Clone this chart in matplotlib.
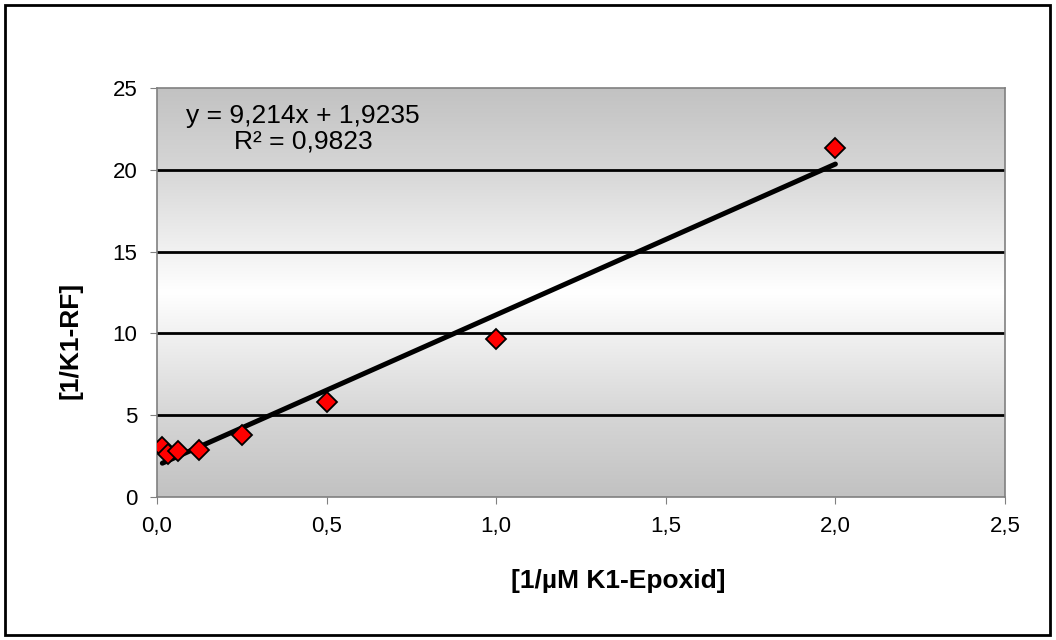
import numpy as np
import matplotlib.pyplot as plt
from matplotlib.patches import Rectangle
from matplotlib.ticker import FuncFormatter

plt.rcParams['font.family'] = ['Liberation Sans', 'DejaVu Sans']

# Data
x_vals = [1/64, 1/32, 1/16, 1/8, 0.25, 0.5, 1.0, 2.0]
y_vals = [3.07, 2.63, 2.81, 2.87, 3.79, 5.79, 9.66, 21.35]
slope = 9.214
intercept = 1.9235
r_squared = 0.9823

fig = plt.figure(figsize=(10.56, 6.4), dpi=100)
ax = fig.add_axes([0.1487, 0.2234, 0.9517 - 0.1487, 0.8625 - 0.2234])

# gray-white-gray gradient background of the plot area
pos = np.linspace(0, 1, 300)
shade = np.interp(pos, [0, 0.2, 0.5, 0.8, 1.0], [0.76, 0.84, 1.0, 0.84, 0.76])
grad = np.dstack([shade, shade, shade])[0][:, None, :]
ax.imshow(grad, extent=[0, 2.5, 0, 25], aspect='auto', origin='lower', zorder=0)

ax.set_xlim(0, 2.5)
ax.set_ylim(0, 25)
ax.set_xticks(np.arange(0, 2.51, 0.5))
ax.set_yticks(np.arange(0, 26, 5))
ax.xaxis.set_major_formatter(FuncFormatter(lambda v, p: f'{v:.1f}'.replace('.', ',')))

for yv in [5, 10, 15, 20]:
    ax.axhline(yv, color='black', linewidth=2, zorder=1)

for s in ax.spines.values():
    s.set_color('#808080')
    s.set_linewidth(1.2)
ax.tick_params(direction='out', length=5, color='#808080', labelsize=16, pad=9)

# trendline
xt = np.array([min(x_vals), max(x_vals)])
ax.plot(xt, slope * xt + intercept, color='black', linewidth=3.6,
        solid_capstyle='round', zorder=2)

ax.plot(x_vals, y_vals, linestyle='none', marker='D', markersize=10,
        markerfacecolor='#ff0000', markeredgecolor='black', markeredgewidth=1.3, zorder=3)

eq = (f'y = {slope:.3f}x + {intercept:.4f}'.replace('.', ',') + '\n'
      + f'R² = {r_squared:.4f}'.replace('.', ','))
ax.text(0.43, 22.5, eq, ha='center', va='center', fontsize=19, linespacing=1.05, zorder=4)

# axis titles
fig.text(618 / 1056, 1 - 581 / 640, '[1/µM K1-Epoxid]', fontsize=19, fontweight='bold',
         ha='center', va='center')
fig.text(70 / 1056, 1 - 340 / 640, '[1/K1-RF]', fontsize=19, fontweight='bold',
         rotation=90, ha='center', va='center')

# chart border
fig.patches.append(Rectangle((5 / 1056, 5 / 640), 1045 / 1056, 630 / 640,
                             transform=fig.transFigure, fill=False,
                             edgecolor='black', linewidth=2))

fig.savefig('out.png', dpi=100)
